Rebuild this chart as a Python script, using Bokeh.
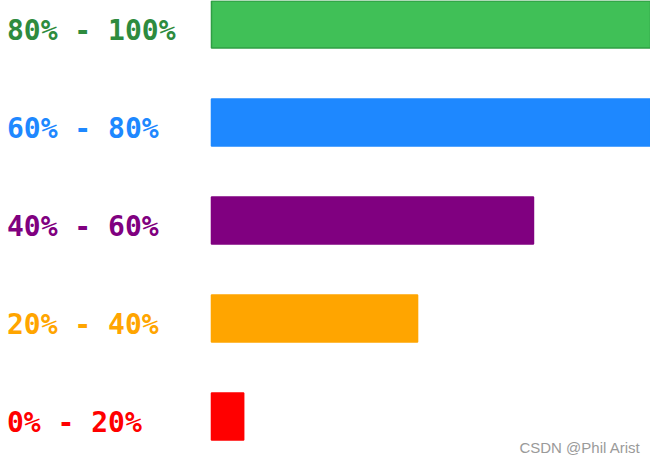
import numpy as np
from bokeh.plotting import figure
from bokeh.models import ColumnDataSource, Range1d, Label
from bokeh.core.properties import value
from bokeh.embed import file_html
from bokeh.resources import INLINE

# ---- data (bottom to top) ----
categories = ["0% - 20%", "20% - 40%", "40% - 60%", "60% - 80%", "80% - 100%"]
values = [5, 32, 50, 75, 80]
bar_colors = ["#ff0000", "#ffa500", "#800080", "#1e88ff", "#40c057"]
line_colors = ["#ff0000", "#ffa500", "#800080", "#1e88ff", "#2f9e44"]
text_colors = ["#ff0000", "#ffa500", "#800080", "#1e88ff", "#2e8b3e"]

# ---- layout ----
W, H = 650, 460
X_START, X_END = -32.76, 68.17
Y_START, Y_END = -0.449, 4.245

src = ColumnDataSource(dict(
    y=np.arange(len(categories)),
    cat=categories,
    val=values,
    fill=bar_colors,
    line=line_colors,
    tcol=text_colors,
))

p = figure(width=W, height=H, output_backend="svg", toolbar_location=None,
           x_range=Range1d(X_START, X_END), y_range=Range1d(Y_START, Y_END),
           min_border=0)
p.axis.visible = False
p.grid.visible = False
p.outline_line_color = None
p.background_fill_color = "white"
p.border_fill_color = "white"

p.hbar(y="y", left=0, right="val", height=0.48, fill_color="fill",
       line_color="line", line_width=1.5, source=src)

p.text(x=X_START + 1.0, y="y", text="cat", text_color="tcol",
       text_font=value("DejaVu Sans Mono"), text_font_style="bold",
       text_font_size="28px", text_align="left", text_baseline="middle",
       y_offset=6, source=src)

wm = Label(x=640, y=13, x_units="screen", y_units="screen",
           text="CSDN @Phil Arist", text_color="#9a9a9a",
           text_font="Liberation Sans", text_font_size="15px",
           text_align="right", text_baseline="alphabetic")
p.add_layout(wm)

open("out.html", "w").write(file_html(p, INLINE))
